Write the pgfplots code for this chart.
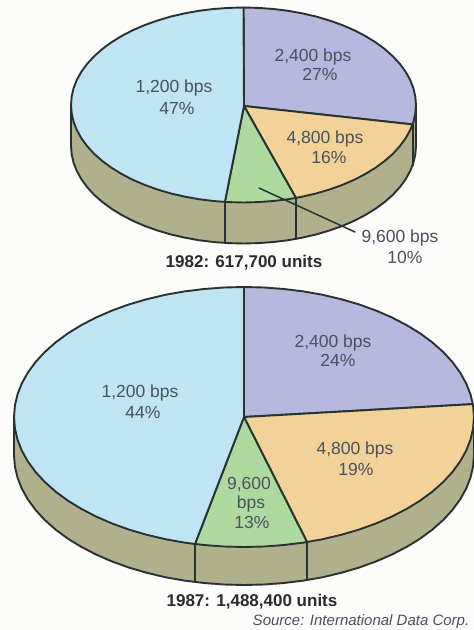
\documentclass[border=0pt]{standalone}
\usepackage{pgfplots}
\pgfplotsset{compat=1.18}
\usepackage{fontspec}
\setmainfont{Liberation Sans}
\definecolor{cblue}{HTML}{BFE4F4}
\definecolor{clav}{HTML}{B7B8DE}
\definecolor{corange}{HTML}{F3D29A}
\definecolor{cgreen}{HTML}{AEDA9F}
\definecolor{cside}{HTML}{B0B18C}
\definecolor{cline}{HTML}{2A3230}
\definecolor{clabel}{HTML}{47525C}
\definecolor{ctitle}{HTML}{2B2B2B}
\definecolor{cpaper}{HTML}{FCFCFA}
\begin{document}
\begin{tikzpicture}
\begin{axis}[
  scale only axis, width=474pt, height=630pt,
  xmin=0, xmax=474, ymin=0, ymax=630, y dir=reverse,
  axis lines=none, clip=true,
  every axis plot/.append style={line join=round, line cap=round},
]
\newcommand{\lab}[3]{\node[text=clabel,font=\fontsize{17.5}{20}\selectfont,anchor=center,inner sep=0pt,yshift=-1.5pt] at (axis cs:#1,#2) {#3};}
\newcommand{\ttl}[3]{\node[text=ctitle,font=\fontsize{17}{20}\selectfont\bfseries,anchor=center,inner sep=0pt,yshift=-2pt] at (axis cs:#1,#2) {#3};}
% paper
\addplot[fill=cpaper,draw=none] coordinates {(0,0)(474,0)(474,630)(0,630)(0,0)};
% ---------- 1982 ----------
% side wall
\addplot[fill=cside,draw=cline,line width=1.9pt] coordinates {
(416,105)(416,146)(415.3,154.5)(413.4,162.9)(410.1,171.2)(405.6,179.3)(399.8,187.2)(392.9,194.8)(384.8,201.9)(375.6,208.7)(365.5,214.9)(354.4,220.7)(342.4,225.9)(329.8,230.4)(316.4,234.4)(302.5,237.6)(288.1,240.2)(273.5,242)(258.5,243.1)(243.5,243.5)(228.5,243.1)(213.5,242)(198.9,240.2)(184.5,237.6)(170.6,234.4)(157.2,230.4)(144.6,225.9)(132.6,220.7)(121.5,214.9)(111.4,208.7)(102.2,201.9)(94.1,194.8)(87.2,187.2)(81.4,179.3)(76.9,171.2)(73.6,162.9)(71.7,154.5)(71,146)(71,105)(416,105)};
\addplot[draw=cline,line width=1.9pt] coordinates {(412.6,124.4)(412.6,165.4)};
\addplot[draw=cline,line width=1.9pt] coordinates {(295.9,197.9)(295.9,238.9)};
\addplot[draw=cline,line width=1.9pt] coordinates {(224.9,201.9)(224.9,242.9)};
% 2,400 bps 27%
\addplot[fill=clav,draw=cline,line width=1.9pt] coordinates {
(244,106)(243.5,7.5)(258.5,7.9)(273.5,9.0)(288.1,10.8)(302.5,13.4)(316.4,16.6)(329.8,20.6)(342.4,25.1)(354.4,30.3)(365.5,36.1)(375.6,42.3)(384.8,49.1)(392.9,56.3)(399.8,63.8)(405.6,71.7)(410.1,79.8)(413.4,88.1)(415.3,96.5)(416,105)(415.3,113.5)(413.4,121.9)(412.6,124.4)(244,106)};
% 4,800 bps 16%
\addplot[fill=corange,draw=cline,line width=1.9pt] coordinates {
(244,106)(412.6,124.4)(410.1,130.2)(405.6,138.3)(399.8,146.2)(392.9,153.8)(384.8,160.9)(375.6,167.7)(365.5,173.9)(354.4,179.7)(342.4,184.9)(329.8,189.4)(316.4,193.4)(302.5,196.6)(295.9,197.9)(244,106)};
% 9,600 bps 10%
\addplot[fill=cgreen,draw=cline,line width=1.9pt] coordinates {
(244,106)(295.9,197.9)(288.1,199.2)(273.5,201.0)(258.5,202.1)(243.5,202.5)(228.5,202.1)(224.9,201.9)(244,106)};
% 1,200 bps 47%
\addplot[fill=cblue,draw=cline,line width=1.9pt] coordinates {
(244,106)(224.9,201.9)(213.5,201.0)(198.9,199.2)(184.5,196.6)(170.6,193.4)(157.2,189.4)(144.6,184.9)(132.6,179.7)(121.5,173.9)(111.4,167.7)(102.2,160.9)(94.1,153.8)(87.2,146.2)(81.4,138.3)(76.9,130.2)(73.6,121.9)(71.7,113.5)(71,105)(71.7,96.5)(73.6,88.1)(76.9,79.8)(81.4,71.7)(87.2,63.8)(94.1,56.3)(102.2,49.1)(111.4,42.3)(121.5,36.1)(132.6,30.3)(144.6,25.1)(157.2,20.6)(170.6,16.6)(184.5,13.4)(198.9,10.8)(213.5,9.0)(228.5,7.9)(243.5,7.5)(244,106)};
% leader
\addplot[draw=cline,line width=1.5pt] coordinates {(259,188)(355,232)};
\lab{313}{55}{2,400 bps}
\lab{320}{73}{27\%}
\lab{174}{86}{1,200 bps}
\lab{177}{107}{47\%}
\lab{325}{137}{4,800 bps}
\lab{329}{156}{16\%}
\lab{400}{236}{9,600 bps}
\lab{405}{256}{10\%}
\ttl{244}{261}{1982: 617,700 units}
% ---------- 1987 ----------
\addplot[fill=cside,draw=cline,line width=1.9pt] coordinates {
(474,417)(474,455)(473.1,466.3)(470.5,477.6)(466.2,488.6)(460.1,499.5)(452.5,509.9)(443.2,520)(432.4,529.6)(420.2,538.6)(406.6,546.9)(391.8,554.6)(375.9,561.5)(359,567.6)(341.2,572.8)(322.7,577.2)(303.5,580.6)(283.9,583)(264.1,584.5)(244,585)(223.9,584.5)(204.1,583)(184.5,580.6)(165.3,577.2)(146.8,572.8)(129,567.6)(112.1,561.5)(96.2,554.6)(81.4,546.9)(67.8,538.6)(55.6,529.6)(44.8,520)(35.5,509.9)(27.9,499.5)(21.8,488.6)(17.5,477.6)(14.9,466.3)(14,455)(14,417)(474,417)};
\addplot[draw=cline,line width=1.9pt] coordinates {(307,542)(307,580)};
\addplot[draw=cline,line width=1.9pt] coordinates {(195,544)(195,582)};
% 2,400 bps 24%
\addplot[fill=clav,draw=cline,line width=1.9pt] coordinates {
(244,417)(244,287)(264.1,287.5)(283.9,289.0)(303.5,291.4)(322.7,294.8)(341.2,299.2)(359,304.4)(375.9,310.5)(391.8,317.4)(406.6,325.1)(420.2,333.4)(432.4,342.4)(443.2,352)(452.5,362.1)(460.1,372.5)(466.2,383.4)(470.5,394.4)(472.9,404.1)(244,417)};
% 4,800 bps 19%
\addplot[fill=corange,draw=cline,line width=1.9pt] coordinates {
(244,417)(472.9,404.1)(473.1,405.7)(474,417)(473.1,428.3)(470.5,439.6)(466.2,450.6)(460.1,461.5)(452.5,471.9)(443.2,482)(432.4,491.6)(420.2,500.6)(406.6,508.9)(391.8,516.6)(375.9,523.5)(359,529.6)(341.2,534.8)(322.7,539.2)(307,542)(244,417)};
% 9,600 bps 13%
\addplot[fill=cgreen,draw=cline,line width=1.9pt] coordinates {
(244,417)(307,542)(303.5,542.6)(283.9,545)(264.1,546.5)(244,547)(223.9,546.5)(204.1,545)(195,544)(244,417)};
% 1,200 bps 44%
\addplot[fill=cblue,draw=cline,line width=1.9pt] coordinates {
(244,417)(195,544)(184.5,542.6)(165.3,539.2)(146.8,534.8)(129,529.6)(112.1,523.5)(96.2,516.6)(81.4,508.9)(67.8,500.6)(55.6,491.6)(44.8,482)(35.5,471.9)(27.9,461.5)(21.8,450.6)(17.5,439.6)(14.9,428.3)(14,417)(14.9,405.7)(17.5,394.4)(21.8,383.4)(27.9,372.5)(35.5,362.1)(44.8,352)(55.6,342.4)(67.8,333.4)(81.4,325.1)(96.2,317.4)(112.1,310.5)(129,304.4)(146.8,299.2)(165.3,294.8)(184.5,291.4)(204.1,289)(223.9,287.5)(244,287)(244,417)};
\lab{333}{341}{2,400 bps}
\lab{338}{359}{24\%}
\lab{140}{391}{1,200 bps}
\lab{143}{411}{44\%}
\lab{355}{448}{4,800 bps}
\lab{356}{468}{19\%}
\lab{249}{483}{9,600}
\lab{251}{502}{bps}
\lab{252}{521}{13\%}
\ttl{252}{600}{1987: 1,488,400 units}
\node[text=clabel,font=\fontsize{15}{18}\selectfont\itshape,anchor=center,inner sep=0pt] at (axis cs:361,622) {Source: International Data Corp.};
\end{axis}
\end{tikzpicture}
\end{document}
